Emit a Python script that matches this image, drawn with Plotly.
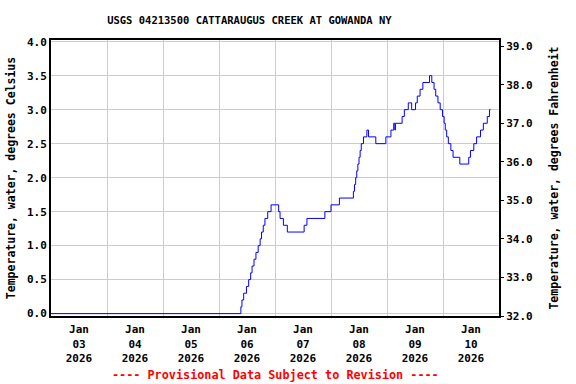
import plotly.graph_objects as go

# ---- data ----
times = [
    "2026-01-03 00:00", "2026-01-06 09:22", "2026-01-06 09:50", "2026-01-06 10:34",
    "2026-01-06 11:46", "2026-01-06 12:43", "2026-01-06 13:34", "2026-01-06 14:10",
    "2026-01-06 15:00", "2026-01-06 15:50", "2026-01-06 16:48", "2026-01-06 17:38",
    "2026-01-06 18:14", "2026-01-06 18:58", "2026-01-06 19:41", "2026-01-06 20:53",
    "2026-01-06 22:19", "2026-01-07 01:34", "2026-01-07 02:10", "2026-01-07 03:36",
    "2026-01-07 05:17", "2026-01-07 12:29", "2026-01-07 13:41", "2026-01-07 21:22",
    "2026-01-08 00:00", "2026-01-08 03:36", "2026-01-08 09:36", "2026-01-08 10:05",
    "2026-01-08 10:34", "2026-01-08 11:02", "2026-01-08 11:31", "2026-01-08 12:00",
    "2026-01-08 12:29", "2026-01-08 12:58", "2026-01-08 13:55", "2026-01-08 15:22",
    "2026-01-08 16:05", "2026-01-08 19:12", "2026-01-08 23:31", "2026-01-09 01:41",
    "2026-01-09 02:53", "2026-01-09 03:22", "2026-01-09 03:36", "2026-01-09 06:29",
    "2026-01-09 07:26", "2026-01-09 09:07", "2026-01-09 10:34", "2026-01-09 12:14",
    "2026-01-09 12:58", "2026-01-09 14:10", "2026-01-09 15:22", "2026-01-09 18:14",
    "2026-01-09 19:12", "2026-01-09 20:10", "2026-01-09 20:53", "2026-01-09 21:50",
    "2026-01-09 22:48", "2026-01-09 23:46", "2026-01-10 00:29", "2026-01-10 00:58",
    "2026-01-10 01:34", "2026-01-10 02:17", "2026-01-10 03:22", "2026-01-10 04:19",
    "2026-01-10 07:12", "2026-01-10 11:02", "2026-01-10 11:46", "2026-01-10 13:12",
    "2026-01-10 14:24", "2026-01-10 16:05", "2026-01-10 17:17", "2026-01-10 18:58",
    "2026-01-10 19:55", "2026-01-10 20:24",
]
temp_c = [
    0.0, 0.1, 0.2, 0.3,
    0.4, 0.5, 0.6, 0.7,
    0.8, 0.9, 1.0, 1.1,
    1.2, 1.3, 1.4, 1.5,
    1.6, 1.5, 1.4, 1.3,
    1.2, 1.3, 1.4, 1.5,
    1.6, 1.7, 1.8, 1.9,
    2.0, 2.1, 2.2, 2.3,
    2.4, 2.5, 2.6, 2.7,
    2.6, 2.5, 2.6, 2.7,
    2.8, 2.7, 2.8, 2.9,
    3.0, 3.1, 3.0, 3.1,
    3.2, 3.3, 3.4, 3.5,
    3.4, 3.3, 3.2, 3.1,
    3.0, 2.9, 2.8, 2.7,
    2.6, 2.5, 2.4, 2.3,
    2.2, 2.3, 2.4, 2.5,
    2.6, 2.7, 2.8, 2.9,
    3.0, 3.0,
]
c_ticks = [0.0, 0.5, 1.0, 1.5, 2.0, 2.5, 3.0, 3.5, 4.0]
f_ticks = [32.0, 33.0, 34.0, 35.0, 36.0, 37.0, 38.0, 39.0]

title = "USGS 04213500 CATTARAUGUS CREEK AT GOWANDA NY"
left_title = "Temperature, water, degrees Celsius"
right_title = "Temperature, water, degrees Fahrenheit"
footer = "---- Provisional Data Subject to Revision ----"

FONT = "DejaVu Sans Mono"
temp_f = [c * 1.8 + 32 for c in temp_c]

fig = go.Figure()
fig.add_trace(go.Scatter(x=times, y=temp_c, mode="lines", line=dict(color="#0000ff", width=1, shape="hv"),
                         showlegend=False, hoverinfo="skip"))
fig.add_trace(go.Scatter(x=times, y=temp_f, mode="lines", yaxis="y2", opacity=0,
                         line=dict(color="#0000ff", width=1, shape="hv"), showlegend=False, hoverinfo="skip"))

tickfont = dict(family=FONT, size=11, color="black", weight="bold")

fig.update_layout(
    width=576, height=384,
    margin=dict(l=51, r=77, t=40, b=68, autoexpand=False),
    paper_bgcolor="white", plot_bgcolor="white",
    title=dict(text=title, x=0.433, xref="container", xanchor="center",
               y=1 - 20.7 / 384, yref="container", yanchor="middle",
               font=dict(family=FONT, size=10.5, color="black", weight="bold")),
    xaxis=dict(
        type="date", range=["2026-01-03 00:00", "2026-01-11 00:00"],
        dtick=86400000, tick0="2026-01-03", ticklabelmode="period",
        tickformat="%b<br>%d<br>%Y", tickfont=tickfont, automargin=False,
        ticklabelstandoff=2,
        showgrid=True, gridcolor="#cccccc", gridwidth=1,
        showline=True, linecolor="black", linewidth=2, mirror=True,
        ticks="", zeroline=False,
    ),
    yaxis=dict(
        range=[-0.035, 4.025], tickvals=c_ticks, tickformat=".1f", tickfont=tickfont,
        showgrid=True, gridcolor="#cccccc", gridwidth=1, zeroline=False, automargin=False,
        showline=True, linecolor="black", linewidth=2, mirror=True, ticks="",
        title=dict(text=left_title, font=dict(family=FONT, size=11.5, color="black", weight="bold"), standoff=9),
    ),
    yaxis2=dict(
        overlaying="y", side="right", anchor="x", automargin=False,
        range=[32.0, 39.16], tickvals=f_ticks, tickformat=".1f", tickfont=tickfont,
        showgrid=False, zeroline=False, showline=False,
        ticks="outside", ticklen=4, tickcolor="black",
        title=dict(text=right_title, font=dict(family=FONT, size=11.5, color="black", weight="bold"), standoff=18),
    ),
    annotations=[dict(text=footer, xref="paper", yref="paper", x=0.5, y=-(375 - 316) / 276,
                      xanchor="center", yanchor="middle", showarrow=False,
                      font=dict(family=FONT, size=11.8, color="#ff0000", weight="bold"))],
)

fig.write_html("out.html", config={"displayModeBar": False},
               post_script="document.body.style.margin='0';document.body.style.overflow='hidden';")
